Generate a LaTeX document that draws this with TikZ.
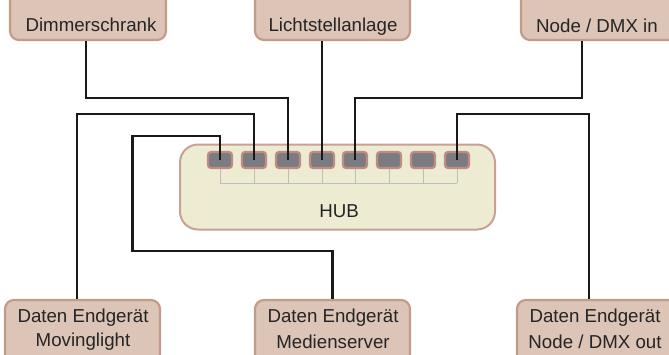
\documentclass[tikz,border=0pt]{standalone}
\usepackage{fontspec}
\setmainfont{Liberation Sans}
\definecolor{boxfill}{HTML}{DCC4B6}
\definecolor{boxline}{HTML}{C49A88}
\definecolor{hubfill}{HTML}{EEEBD3}
\definecolor{hubline}{HTML}{C9A094}
\definecolor{portfill}{HTML}{7B7B82}
\definecolor{portline}{HTML}{C08C82}
\definecolor{thin}{HTML}{BDBDBD}
\definecolor{txt}{HTML}{252525}
\begin{document}
\begin{tikzpicture}[x=1pt,y=-1pt,
  devbox/.style={draw=boxline,fill=boxfill,line width=2.2pt,rounded corners=9pt,inner sep=0pt},
  lbl/.style={text=txt,font=\fontsize{18.7}{21}\selectfont,inner sep=0pt},
  portbox/.style={draw=portline,fill=portfill,line width=2.2pt,rounded corners=3pt,minimum width=24pt,minimum height=16pt,inner sep=0pt},
  wire/.style={draw=black!90,line width=2.6pt},
  thinline/.style={draw=thin,line width=1pt}]
\useasboundingbox (0,0) rectangle (669,354);
\clip (0,0) rectangle (669,354);
% top boxes
\node[devbox,minimum width=156pt,minimum height=80pt] (dim) at (88,0) {};
\node[lbl] (dimt) at (91,25) {Dimmerschrank};
\node[devbox,minimum width=155pt,minimum height=80pt] (licht) at (332.5,0) {};
\node[lbl] (lichtt) at (333,27) {Lichtstellanlage};
\node[devbox,minimum width=160pt,minimum height=80pt] (dmxin) at (601,0) {};
\node[lbl] (dmxint) at (597,26) {Node / DMX in};
% bottom boxes
\node[devbox,minimum width=155pt,minimum height=110pt] (mov) at (82.5,355) {};
\node[lbl] (movt1) at (83,318) {Daten Endgerät};
\node[lbl] (movt2) at (83,342) {Movinglight};
\node[devbox,minimum width=155pt,minimum height=110pt] (med) at (332.5,355) {};
\node[lbl] (medt1) at (333,318) {Daten Endgerät};
\node[lbl] (medt2) at (333,342) {Medienserver};
\node[devbox,minimum width=162pt,minimum height=110pt] (dmxout) at (598,355) {};
\node[lbl] (dmxoutt1) at (595,318) {Daten Endgerät};
\node[lbl] (dmxoutt2) at (595,342) {Node / DMX out};
% hub
\node[draw=hubline,fill=hubfill,line width=2pt,rounded corners=18pt,minimum width=315pt,minimum height=85pt,inner sep=0pt] (hub) at (337.5,187) {};
\node[lbl] (hubt) at (339,211) {HUB};
% ports
\foreach \i/\x in {1/220,2/254,3/288,4/322,5/355,6/389,7/423,8/457}{
  \node[portbox] (p\i) at (\x,160) {};
}
\foreach \i in {1,...,8}{
  \draw[thinline] (p\i.south) -- (p\i.center |- 0,183);
}
\draw[thinline] (p1.center |- 0,183) -- (p8.center |- 0,183);
% wires
\draw[wire] ([xshift=-2pt]dim.south) -- ++(0,57) -| (p3.center);
\draw[wire] (p4.center |- licht.south) -- (p4.center);
\draw[wire] ([xshift=-19pt]dmxin.south) -- ++(0,57) -| (p5.center);
\draw[wire] ([xshift=-5.5pt]mov.north) -- ++(0,-185) -| (p2.center);
\draw[wire] (med.north) -- ++(0,-48) -- ++(-200,0) -- ++(0,-115) -| (p1.center);
\draw[wire] ([xshift=-9pt]dmxout.north) -- ++(0,-185) -| (p8.center);
\end{tikzpicture}
\end{document}
